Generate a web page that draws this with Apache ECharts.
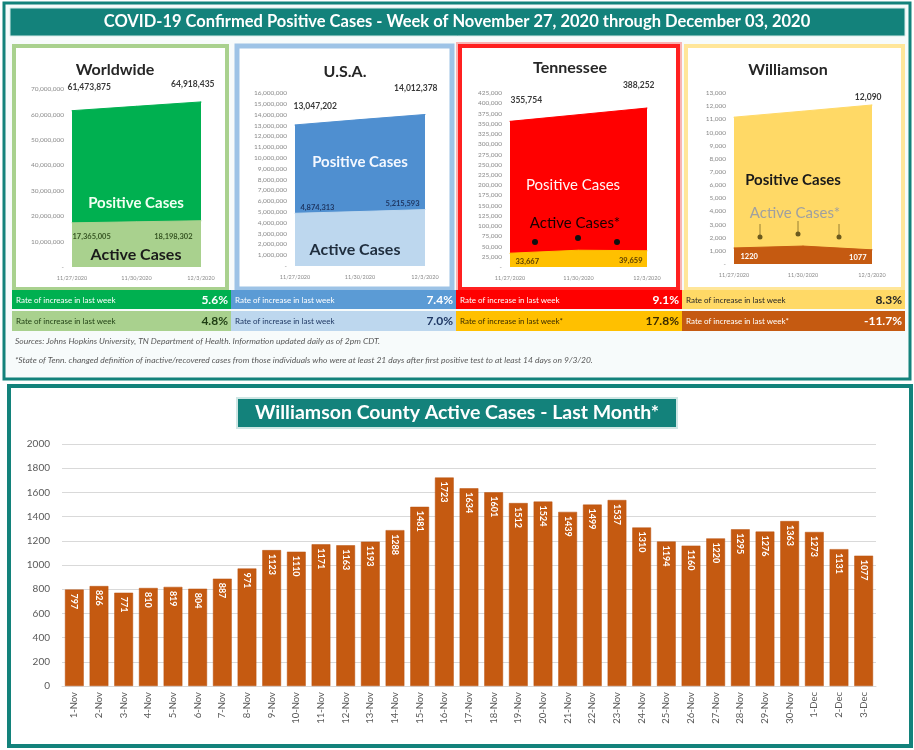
<!DOCTYPE html>
<html>
<head>
<meta charset="utf-8">
<script src="https://cdn.jsdelivr.net/npm/echarts@6/dist/echarts.min.js"></script>
<style>
  html, body { margin: 0; padding: 0; background: #fff; }
  #main { width: 914px; height: 750px; }
</style>
</head>
<body>
<div id="main"></div>
<script>
// week panels (3 points: 11/27, 11/30, 12/3)
const weekDates = ['11/27/2020', '11/30/2020', '12/3/2020'];
const worldPositive = [61473875, 63200000, 64918435];
const worldActive = [17365005, 17780000, 18198302];
const usaPositive = [13047202, 13540000, 14012378];
const usaActive = [4874313, 5040000, 5215593];
const tnPositive = [355754, 372000, 388252];
const tnActive = [33667, 41000, 39659];
const wcPositive = [11163, 11620, 12090];
const wcActive = [1220, 1363, 1077];

// rate of increase rows
const rateLabels1 = ['Rate of increase in last week', 'Rate of increase in last week', 'Rate of increase in last week', 'Rate of increase in last week'];
const rateValues1 = ['5.6%', '7.4%', '9.1%', '8.3%'];
const rateLabels2 = ['Rate of increase in last week', 'Rate of increase in last week', 'Rate of increase in last week*', 'Rate of increase in last week*'];
const rateValues2 = ['4.8%', '7.0%', '17.8%', '-11.7%'];

// Williamson county active cases, last month
const dayLabels = ['1-Nov', '2-Nov', '3-Nov', '4-Nov', '5-Nov', '6-Nov', '7-Nov', '8-Nov', '9-Nov', '10-Nov',
  '11-Nov', '12-Nov', '13-Nov', '14-Nov', '15-Nov', '16-Nov', '17-Nov', '18-Nov', '19-Nov', '20-Nov',
  '21-Nov', '22-Nov', '23-Nov', '24-Nov', '25-Nov', '26-Nov', '27-Nov', '28-Nov', '29-Nov', '30-Nov',
  '1-Dec', '2-Dec', '3-Dec'];
const activeCases = [797, 826, 771, 810, 819, 804, 887, 971, 1123, 1110,
  1171, 1163, 1193, 1288, 1481, 1723, 1634, 1601, 1512, 1524,
  1439, 1499, 1537, 1310, 1194, 1160, 1220, 1295, 1276, 1363,
  1273, 1131, 1077];

const FONT = 'Lato, "Open Sans", sans-serif';
const TEAL = '#13827b';

const panels = [
  { title: 'Worldwide', pos: worldPositive, act: worldActive,
    grid: { left: 72, top: 89, width: 129, height: 178 }, max: 70000000, interval: 10000000,
    posColor: '#00b050', actColor: '#a9d18e', actLabelColor: '#375623', actFmt: true,
    posOffsets: [[-10, -23], [19, -18]], actOffsets: [[-5, 14], [-3, 16]] },
  { title: 'U.S.A.', pos: usaPositive, act: usaActive,
    grid: { left: 295, top: 93, width: 130, height: 173 }, max: 16000000, interval: 1000000,
    posColor: '#4f8fd0', actColor: '#bdd7ee', actLabelColor: '#1f3864', actFmt: true,
    posOffsets: [[-7, -19], [18, -26]], actOffsets: [[0, -6], [0, -6]] },
  { title: 'Tennessee', pos: tnPositive, act: tnActive,
    grid: { left: 510, top: 93, width: 137, height: 174 }, max: 425000, interval: 25000,
    posColor: '#ff0000', actColor: '#ffc000', actLabelColor: '#5a3d00', actFmt: true,
    posOffsets: [[-5, -21], [13, -23]], actOffsets: [[0, 8], [1, 10]] },
  { title: 'Williamson', pos: wcPositive, act: wcActive,
    grid: { left: 734, top: 93, width: 138, height: 171 }, max: 13000, interval: 1000,
    posColor: '#ffd966', actColor: '#c55a11', actLabelColor: '#ffffff', actFmt: false,
    posOffsets: [null, [15, -8]], actOffsets: [[1, 9], [0, 8]] }
];

function fmt(v) { return Number(v).toLocaleString('en-US'); }

// put a label only on the first and last point
function endLabels(values, offsets, style) {
  return values.map((v, i) => {
    const off = i === 0 ? offsets[0] : (i === values.length - 1 ? offsets[1] : null);
    if (!off) return v;
    return { value: v, label: Object.assign({ show: true, position: i === 0 ? 'right' : 'left', offset: off }, style) };
  });
}

const grids = [], xAxes = [], yAxes = [], series = [];

panels.forEach((p, i) => {
  grids.push(Object.assign({ outerBoundsMode: 'none' }, p.grid));
  xAxes.push({
    type: 'category', gridIndex: i, data: weekDates, boundaryGap: false,
    axisLine: { show: false }, axisTick: { show: false },
    axisLabel: { fontSize: 5.5, color: '#8a8a8a', interval: 0, margin: 8, fontFamily: FONT }
  });
  yAxes.push({
    type: 'value', gridIndex: i, min: 0, max: p.max, interval: p.interval,
    splitLine: { show: false }, axisLine: { show: false }, axisTick: { show: false },
    axisLabel: { fontSize: 6.5, color: '#8a8a8a', margin: 8, fontFamily: FONT,
      formatter: v => v === 0 ? '-' : fmt(v) }
  });
  series.push({
    type: 'line', xAxisIndex: i, yAxisIndex: i, silent: true,
    symbol: 'circle', symbolSize: 1, showSymbol: true,
    itemStyle: { color: p.posColor },
    lineStyle: { width: 1, color: p.posColor },
    areaStyle: { color: p.posColor, opacity: 1 },
    label: { show: false },
    data: endLabels(p.pos, p.posOffsets, {
      formatter: q => fmt(q.value), fontSize: 8.5, color: '#3a3a3a', fontWeight: 'bold', fontFamily: FONT })
  });
  series.push({
    type: 'line', xAxisIndex: i, yAxisIndex: i, silent: true,
    symbol: 'circle', symbolSize: 1, showSymbol: true,
    itemStyle: { color: p.actColor },
    lineStyle: { width: 1, color: p.actColor },
    areaStyle: { color: p.actColor, opacity: 1 },
    label: { show: false },
    data: endLabels(p.act, p.actOffsets, {
      formatter: q => p.actFmt ? fmt(q.value) : String(q.value),
      fontSize: 7.5, color: p.actLabelColor, fontWeight: 'bold', fontFamily: FONT })
  });
});

// bottom bar chart
grids.push({ left: 62, top: 444, width: 814, height: 242, outerBoundsMode: 'none' });
xAxes.push({
  type: 'category', gridIndex: 4, data: dayLabels,
  axisLine: { lineStyle: { color: '#d9d9d9' } }, axisTick: { show: false },
  axisLabel: { rotate: 90, interval: 0, fontSize: 9.5, color: '#595959', margin: 6, fontFamily: FONT }
});
yAxes.push({
  type: 'value', gridIndex: 4, min: 0, max: 2000, interval: 200,
  axisLine: { show: false }, axisTick: { show: false },
  splitLine: { lineStyle: { color: '#d9d9d9', width: 1 } },
  axisLabel: { fontSize: 10, color: '#595959', margin: 12, fontFamily: FONT, formatter: v => String(v) }
});
series.push({
  type: 'bar', xAxisIndex: 4, yAxisIndex: 4, data: activeCases,
  barCategoryGap: '24%',
  itemStyle: { color: '#c55a11', borderColor: '#b85210', borderWidth: 0.5 },
  label: {
    show: true, position: 'insideTop', rotate: -90, align: 'left', verticalAlign: 'middle',
    distance: 4, color: '#fff', fontSize: 9, fontWeight: 'bold', fontFamily: FONT
  }
});

// layout pieces
const g = [];
function rect(x, y, w, h, style, z) { g.push({ type: 'rect', shape: { x, y, width: w, height: h }, style, z: z || 0 }); }
function text(x, y, t, style, z) {
  g.push({ type: 'text', x, y, style: Object.assign({ text: t, fontFamily: FONT, align: 'center', verticalAlign: 'middle' }, style), z: z || 100 });
}

// top frame
rect(4, 3, 906, 376, { fill: '#f7fbfb', stroke: TEAL, lineWidth: 3 });
rect(10, 8, 895, 28, { fill: TEAL, stroke: '#d5ebe9', lineWidth: 1 });
text(457, 22, 'COVID-19 Confirmed Positive Cases - Week of November 27, 2020 through December 03, 2020',
  { fill: '#fff', fontSize: 16.5, fontWeight: 'bold' });

// panel borders
rect(14, 46, 213, 243, { fill: '#fff', stroke: '#a9d18e', lineWidth: 4 });
rect(237, 46, 215, 243, { fill: '#fff', stroke: '#9dc3e6', lineWidth: 5 });
rect(460, 46, 218, 243, { fill: '#fff', stroke: '#ff2020', lineWidth: 4 });
rect(457, 43, 224, 249, { fill: 'none', stroke: '#f8b4b4', lineWidth: 2 });
rect(686, 46, 217, 243, { fill: '#fff', stroke: '#ffe699', lineWidth: 4 });

// panel titles & inner texts
text(115, 70, 'Worldwide', { fill: '#262626', fontSize: 16, fontWeight: 'bold' });
text(345, 72, 'U.S.A.', { fill: '#262626', fontSize: 16, fontWeight: 'bold' });
text(570, 68, 'Tennessee', { fill: '#262626', fontSize: 16, fontWeight: 'bold' });
text(788, 70, 'Williamson', { fill: '#262626', fontSize: 16, fontWeight: 'bold' });

text(136, 203, 'Positive Cases', { fill: '#f2fff2', fontSize: 15, fontWeight: 'bold' });
text(136, 255, 'Active Cases', { fill: '#1a1a1a', fontSize: 16, fontWeight: 'bold' });
text(360, 162, 'Positive Cases', { fill: '#f4f8ff', fontSize: 15, fontWeight: 'bold' });
text(355, 250, 'Active Cases', { fill: '#1f2d3d', fontSize: 16, fontWeight: 'bold' });
text(573, 185, 'Positive Cases', { fill: '#fff5f5', fontSize: 15 });
text(575, 223, 'Active Cases*', { fill: '#1a0000', fontSize: 15 });
text(793, 180, 'Positive Cases', { fill: '#1a1a1a', fontSize: 15, fontWeight: 'bold' });
text(795, 213, 'Active Cases*', { fill: '#a0a0a0', fontSize: 15 });

// pointer dots
[[535, 242], [578, 238], [617, 242]].forEach(([x, y]) => {
  g.push({ type: 'circle', shape: { cx: x, cy: y, r: 3 }, style: { fill: '#111' }, z: 100 });
});
[[760, 237], [798, 234], [839, 237]].forEach(([x, y]) => {
  g.push({ type: 'line', shape: { x1: x, y1: y - 13, x2: x, y2: y }, style: { stroke: '#7f6a2a', lineWidth: 0.8 }, z: 100 });
  g.push({ type: 'circle', shape: { cx: x, cy: y, r: 2.5 }, style: { fill: '#6b5a1e' }, z: 100 });
});

// rate rows
const segX = [12, 231, 456, 682];
const segW = [219, 225, 226, 223];
const row1Fill = ['#00b050', '#5b9bd5', '#ff0000', '#ffd966'];
const row1Text = ['#ffffff', '#ffffff', '#ffffff', '#262626'];
const row2Fill = ['#a9d18e', '#bdd7ee', '#ffc000', '#c55a11'];
const row2Text = ['#1e3d12', '#1f3864', '#3b2c00', '#ffffff'];
segX.forEach((x, i) => {
  rect(x, 290, segW[i], 19, { fill: row1Fill[i] }, 1);
  rect(x, 311, segW[i], 20, { fill: row2Fill[i] }, 1);
  text(x + 4, 300, rateLabels1[i], { fill: row1Text[i], fontSize: 8, align: 'left' });
  text(x + segW[i] - 3, 300, rateValues1[i], { fill: row1Text[i], fontSize: 12, fontWeight: 'bold', align: 'right' });
  text(x + 4, 321, rateLabels2[i], { fill: row2Text[i], fontSize: 8, align: 'left' });
  text(x + segW[i] - 3, 321, rateValues2[i], { fill: row2Text[i], fontSize: 12, fontWeight: 'bold', align: 'right' });
});

text(15, 341, 'Sources: Johns Hopkins University, TN Department of Health. Information updated daily as of 2pm CDT.',
  { fill: '#595959', fontSize: 8.5, fontStyle: 'italic', align: 'left' });
text(15, 360, '*State of Tenn. changed definition of inactive/recovered cases from those individuals who were at least 21 days after first positive test to at least 14 days on 9/3/20.',
  { fill: '#595959', fontSize: 8.5, fontStyle: 'italic', align: 'left' });

// bottom frame
rect(9, 386, 902, 360, { fill: '#fff', stroke: TEAL, lineWidth: 4 });
rect(237, 398, 440, 30, { fill: TEAL, stroke: '#cfe6e4', lineWidth: 2 }, 50);
text(457, 413, 'Williamson County Active Cases - Last Month*', { fill: '#fff', fontSize: 19.5, fontWeight: 'bold' });

const chart = echarts.init(document.getElementById('main'));
chart.setOption({
  animation: false,
  backgroundColor: '#fff',
  textStyle: { fontFamily: FONT },
  grid: grids,
  xAxis: xAxes,
  yAxis: yAxes,
  series: series,
  graphic: { elements: g }
});
</script>
</body>
</html>
